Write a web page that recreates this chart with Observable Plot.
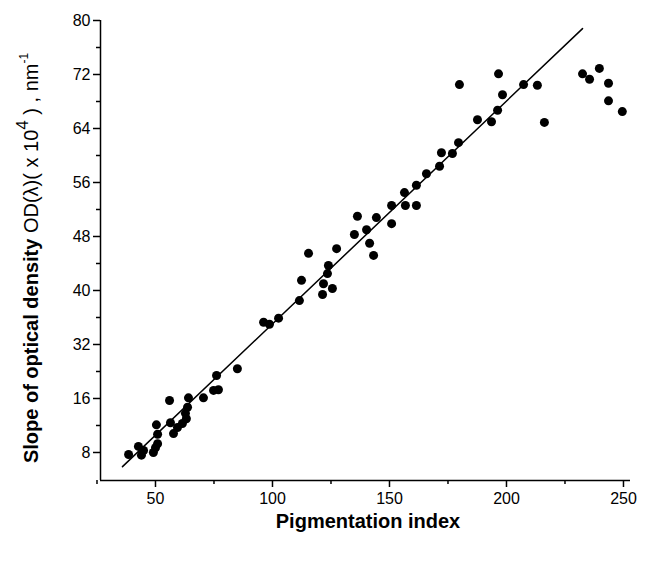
<!DOCTYPE html>
<html><head><meta charset="utf-8">
<script src="https://cdn.jsdelivr.net/npm/d3@7"></script>
<script src="https://cdn.jsdelivr.net/npm/@observablehq/plot@0.6"></script>
<style>body{margin:0;background:#fff}</style>
</head><body><div id="chart"></div>
<script>
const pigX = [38.5,42.7,44.0,44.9,49.1,50,50.9,50.9,50.4,56.0,56.4,57.7,59.4,61.5,63.2,62.8,63.7,64.1,70.5,76.1,74.8,76.9,85.0,96.2,98.7,102.6,111.5,112.4,121.4,121.8,125.6,123.5,123.9,115.4,127.4,135.0,136.3,140.2,141.5,143.2,144.4,150.9,150.9,156.4,156.8,161.5,161.5,165.8,171.4,172.2,176.9,179.5,187.6,193.6,196.2,198.3,179.9,196.6,207.3,213.2,216.2,232.5,235.5,239.7,243.6,243.6,249.5];
const slopeY = [15.7,16.9,15.6,16.3,16.0,16.7,17.3,18.7,20.1,23.7,20.4,18.8,19.7,20.3,21.0,21.8,22.7,24.1,24.1,27.4,25.2,25.3,28.4,35.3,35.0,35.9,38.5,41.5,39.4,41.0,40.3,42.5,43.7,45.5,46.2,48.3,51.0,49.0,47.0,45.2,50.8,49.9,52.6,54.5,52.6,52.6,55.6,57.3,58.4,60.4,60.3,61.9,65.3,65.0,66.7,69.0,70.5,72.1,70.5,70.4,64.9,72.1,71.3,72.9,70.7,68.1,66.5];
const fitX = [35.9, 232.5];
const fitY = [13.9, 78.8];
const yTickPos = [16,24,32,40,48,56,64,72,80];
const yTickLabels = ["8","16","32","40","48","56","64","72","80"];
const yMinor = [20,28,36,44,52,60,68,76];
const xMajor = [50,100,150,200,250];
const xMinor = [25,75,125,175,225];

const pts = pigX.map((x,i)=>({x, y: slopeY[i]}));
const fit = fitX.map((x,i)=>({x, y: fitY[i]}));
const x0 = 26.5, y0 = 11.85;

const plot = Plot.plot({
  width: 648, height: 564,
  marginLeft: 100, marginRight: 18, marginTop: 20, marginBottom: 84,
  x: {domain: [x0, 253]},
  y: {domain: [y0, 80]},
  style: {fontFamily: "Liberation Sans, Arial, sans-serif", fontSize: "16px", color: "#000"},
  marks: [
    Plot.axisX(xMajor, {tickSize: 7, tickPadding: 5, label: null, fontSize: 16, strokeWidth: 1.5}),
    Plot.axisX(xMinor, {tickSize: 4, tickFormat: () => "", label: null, strokeWidth: 1.5}),
    Plot.axisY(yTickPos, {tickSize: 7, tickPadding: 3, label: null, fontSize: 16, strokeWidth: 1.5,
      tickFormat: d => yTickLabels[yTickPos.indexOf(d)]}),
    Plot.axisY(yMinor, {tickSize: 4, tickFormat: () => "", label: null, strokeWidth: 1.5}),
    Plot.ruleX([x0], {strokeWidth: 1.5}),
    Plot.ruleY([y0], {strokeWidth: 1.5}),
    Plot.line(fit, {x: "x", y: "y", stroke: "black", strokeWidth: 1.5}),
    Plot.dot(pts, {x: "x", y: "y", r: 4.5, fill: "black"})
  ]
});
document.getElementById("chart").append(plot);
const svg = d3.select(plot);
svg.append("text").attr("x", 368).attr("y", 528).attr("text-anchor", "middle")
  .attr("font-family", "Liberation Sans, Arial, sans-serif").attr("font-size", 20).attr("font-weight", "bold")
  .attr("fill","#000").text("Pigmentation index");
const yl = svg.append("text").attr("transform", "translate(38,258) rotate(-90)").attr("text-anchor", "middle")
  .attr("font-family", "Liberation Sans, Arial, sans-serif").attr("font-size", 20).attr("fill","#000");
yl.append("tspan").attr("font-weight","bold").text("Slope of optical density ");
yl.append("tspan").text("OD(λ)( x 10");
yl.append("tspan").attr("dy", -10).attr("font-size", 17).text("4");
yl.append("tspan").attr("dy", 10).text(" ) , nm");
yl.append("tspan").attr("dy", -10).attr("font-size", 12).text("-1");
</script></body></html>
